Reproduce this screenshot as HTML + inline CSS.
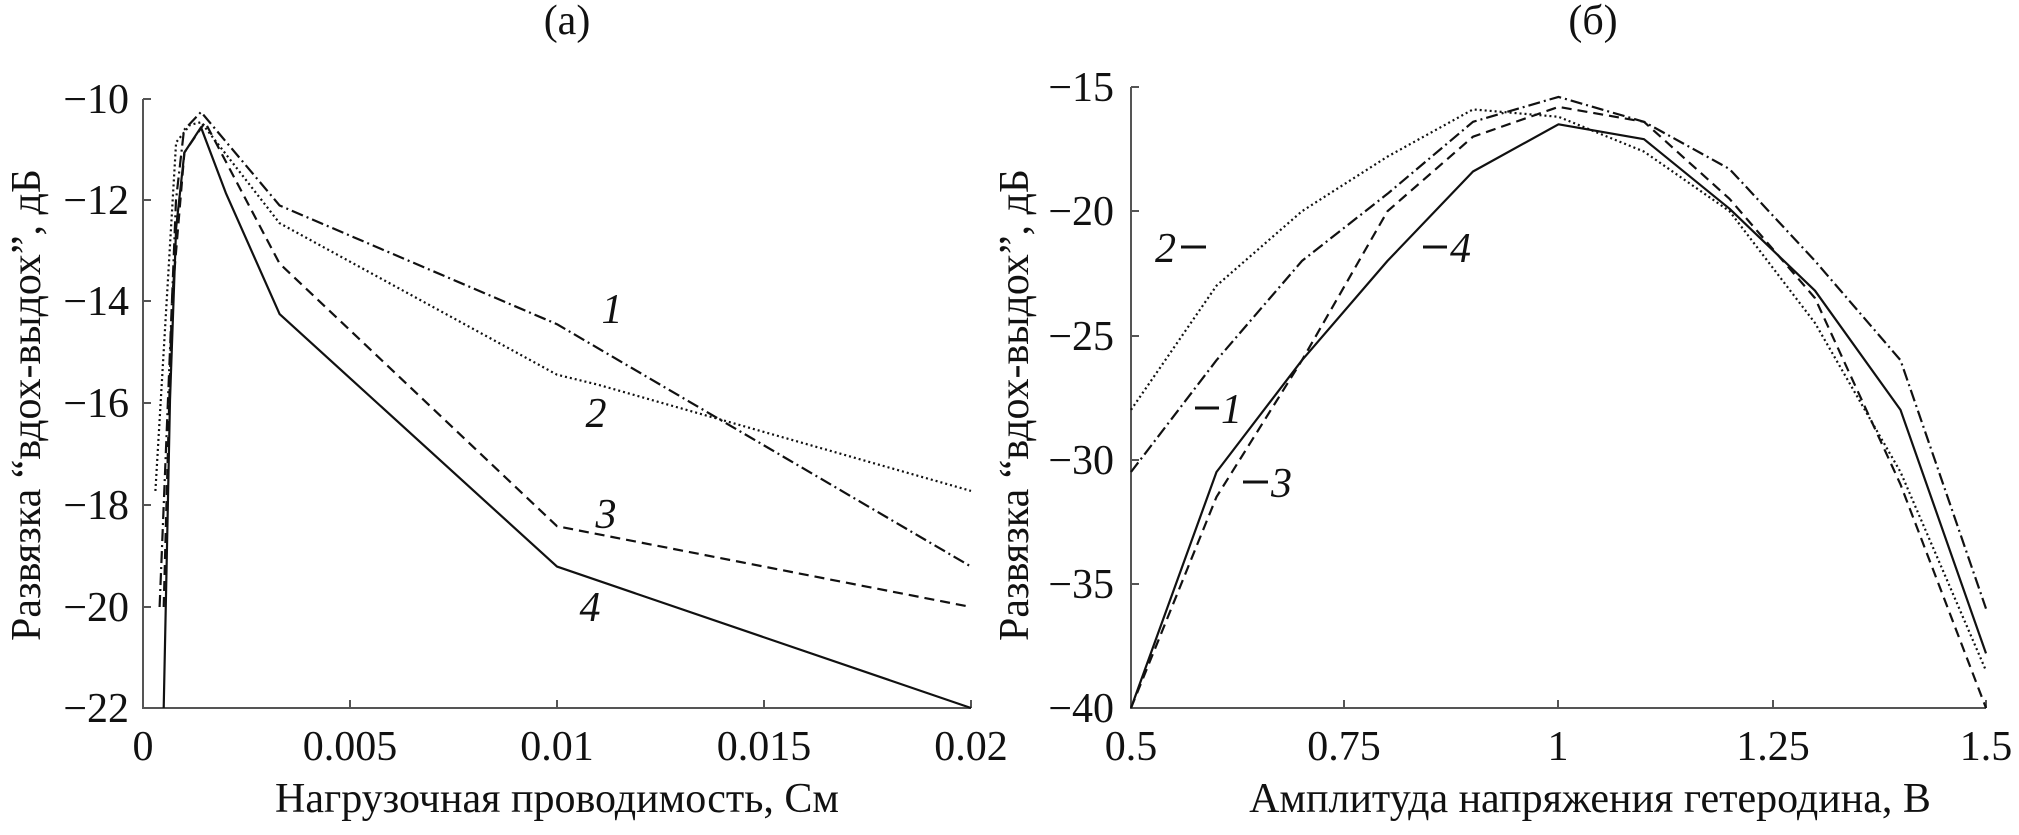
<!DOCTYPE html>
<html><head><meta charset="utf-8"><style>
html,body{margin:0;padding:0;background:#fff}
svg{display:block}
svg text{font-family:"Liberation Serif","DejaVu Serif",serif;fill:#111}
.t{font-size:42px}
.ax{stroke:#555;stroke-width:2;fill:none}
.c{fill:none;stroke:#111;stroke-width:2.2;stroke-linejoin:round}
.l{font-size:42px;font-style:italic}
</style></head><body>
<svg width="2019" height="835" viewBox="0 0 2019 835" xmlns="http://www.w3.org/2000/svg" font-family="Liberation Serif, DejaVu Serif, serif">
<!-- LEFT -->
<text x="567" y="34" class="t" text-anchor="middle">(a)</text>
<path class="ax" d="M143,99 V708 H971 M143,99 h8 M143,200 h8 M143,301 h8 M143,403 h8 M143,505 h8 M143,607 h8 M350,708 v-8 M557,708 v-8 M764,708 v-8 M971,708 v-8"/>
<g class="t" text-anchor="end">
<text x="129" y="113">−10</text><text x="129" y="214">−12</text><text x="129" y="315">−14</text>
<text x="129" y="417">−16</text><text x="129" y="519">−18</text><text x="129" y="621">−20</text><text x="129" y="722">−22</text>
</g>
<g class="t" text-anchor="middle">
<text x="143" y="760">0</text><text x="350" y="760">0.005</text><text x="557" y="760">0.01</text><text x="764" y="760">0.015</text><text x="971" y="760">0.02</text>
</g>
<text x="557" y="812" class="t" text-anchor="middle">Нагрузочная проводимость, См</text>
<text transform="translate(40,405) rotate(-90)" class="t" text-anchor="middle">Развязка “вдох-выдох”, дБ</text>
<polyline class="c" stroke-dasharray="12,4,2,4" points="159.6,607 170,350 176,200 184,130 201,112 279.6,205.5 557,324.2 971,566.6"/>
<polyline class="c" stroke-dasharray="2,3" points="155.4,490.9 176.1,142.4 190,125 201,122.2 279.6,223.2 557,374.7 598.4,384.8 971,490.9"/>
<polyline class="c" stroke-dasharray="10,6" points="163.7,607 172,300 184.4,152.5 205.1,122.2 279.6,263.6 557,526.2 971,607"/>
<polyline class="c" points="163.7,708 170,400 176.1,228.3 184.4,152.5 201,127.3 225.8,192.9 279.6,314.1 557,566.6 971,708"/>
<text x="612" y="323" class="l" text-anchor="middle">1</text>
<text x="596" y="427" class="l" text-anchor="middle">2</text>
<text x="606" y="528" class="l" text-anchor="middle">3</text>
<text x="590" y="621" class="l" text-anchor="middle">4</text>
<!-- RIGHT -->
<text x="1593" y="34" class="t" text-anchor="middle">(б)</text>
<path class="ax" d="M1131,87 V708 H1986 M1131,87 h8 M1131,211 h8 M1131,336 h8 M1131,460 h8 M1131,584 h8 M1344,708 v-8 M1558,708 v-8 M1773,708 v-8 M1986,708 v-8"/>
<g class="t" text-anchor="end">
<text x="1114" y="101">−15</text><text x="1114" y="225">−20</text><text x="1114" y="350">−25</text>
<text x="1114" y="474">−30</text><text x="1114" y="598">−35</text><text x="1114" y="722">−40</text>
</g>
<g class="t" text-anchor="middle">
<text x="1131" y="760">0.5</text><text x="1344" y="760">0.75</text><text x="1558" y="760">1</text><text x="1773" y="760">1.25</text><text x="1986" y="760">1.5</text>
</g>
<text x="1590" y="812" class="t" text-anchor="middle">Амплитуда напряжения гетеродина, В</text>
<text transform="translate(1028,405) rotate(-90)" class="t" text-anchor="middle">Развязка “вдох-выдох”, дБ</text>
<polyline class="c" stroke-dasharray="12,4,2,4" points="1131,472 1216.5,360.2 1302,260.9 1387.5,193.8 1473,121.8 1558.5,96.9 1644,121.8 1729.5,169 1815,260.9 1900.5,360.2 1986,608.6"/>
<polyline class="c" stroke-dasharray="2,3" points="1131,409.9 1216.5,285.7 1302,211.2 1387.5,156.6 1473,109.4 1558.5,116.8 1644,151.6 1729.5,211.2 1815,323 1900.5,472 1986,670.7"/>
<polyline class="c" stroke-dasharray="10,6" points="1131,708 1216.5,496.9 1302,360.2 1387.5,211.2 1473,136.7 1558.5,106.9 1644,121.8 1729.5,198.8 1815,298.1 1900.5,484.4 1986,708"/>
<polyline class="c" points="1131,708 1216.5,472 1302,360.2 1387.5,260.9 1473,171.5 1558.5,124.3 1644,139.2 1729.5,208.7 1815,290.7 1900.5,409.9 1986,653.4"/>
<g class="l">
<text x="1176" y="262" text-anchor="end">2</text><line x1="1181" y1="247" x2="1206" y2="247" stroke="#111" stroke-width="3"/>
<line x1="1423" y1="247" x2="1447" y2="247" stroke="#111" stroke-width="3"/><text x="1450" y="262">4</text>
<line x1="1195" y1="408" x2="1219" y2="408" stroke="#111" stroke-width="3"/><text x="1221" y="423">1</text>
<line x1="1243" y1="482" x2="1268" y2="482" stroke="#111" stroke-width="3"/><text x="1271" y="497">3</text>
</g>
</svg>
</body></html>
